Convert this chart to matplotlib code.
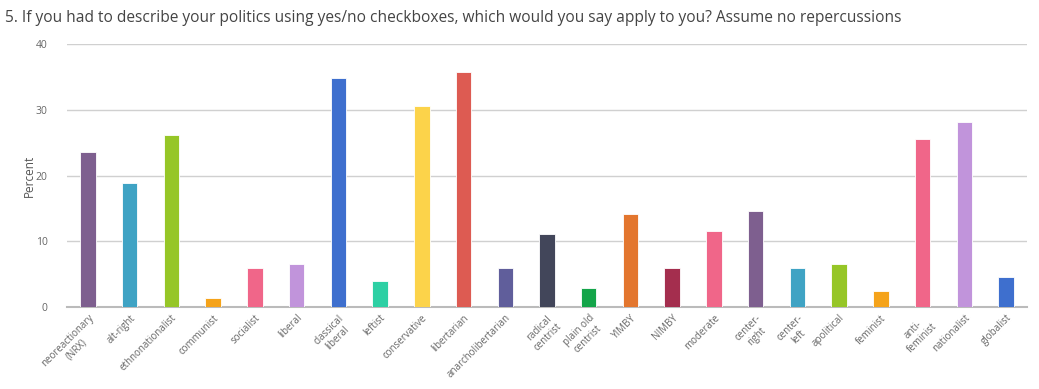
import numpy as np
import matplotlib.pyplot as plt

# =============================================================================
# Data
# =============================================================================
categories = [
    "neoreactionary\n(NRX)", "alt-right", "ethnonationalist", "communist",
    "socialist", "liberal", "classical\nliberal", "leftist", "conservative",
    "libertarian", "anarcholibertarian", "radical\ncentrist", "plain old\ncentrist",
    "YIMBY", "NIMBY", "moderate", "center-\nright", "center-\nleft", "apolitical",
    "feminist", "anti-\nfeminist", "nationalist", "globalist",
]
percent = [23.6, 18.9, 26.2, 1.4, 6.0, 6.5, 34.8, 4.0, 30.6, 35.8, 6.0, 11.1,
           2.9, 14.1, 6.0, 11.6, 14.6, 6.0, 6.5, 2.4, 25.6, 28.1, 4.5]
colors = ["#7e5f8f", "#3fa3c4", "#96c627", "#f5a31a", "#f06689", "#c194db",
          "#3e6fce", "#2dd0a4", "#fcd34a", "#dd5b52", "#605e9b", "#42465a",
          "#14a54a", "#e3762e", "#a42e4e", "#f06689", "#7e5f8f", "#3fa3c4",
          "#96c627", "#f5a31a", "#f06689", "#c194db", "#3e6fce"]
yticks = [0, 10, 20, 30, 40]
title = ("5. If you had to describe your politics using yes/no checkboxes, "
         "which would you say apply to you? Assume no repercussions")

# =============================================================================
# Plot
# =============================================================================
plt.rcParams["font.family"] = ["Open Sans", "DejaVu Sans"]

fig = plt.figure(figsize=(10.39, 3.89), dpi=100)
ax = fig.add_axes([67 / 1039, 1 - 307 / 389, 960 / 1039, 263 / 389])

x = np.arange(len(categories))
ax.bar(x, percent, width=0.37, color=colors, edgecolor="white", linewidth=0.6, zorder=3)

ax.set_xlim(-0.5, len(categories) - 0.5)
ax.set_ylim(0, 40)
ax.set_yticks(yticks)
ax.set_yticklabels([str(t) for t in yticks], fontsize=7.5, color="#666666")
ax.yaxis.grid(True, color="#d0d0d0", linewidth=1, zorder=0)
ax.tick_params(axis="y", length=0, pad=14)
ax.tick_params(axis="x", length=0, pad=4)

ax.set_xticks(x)
ax.set_xticklabels(categories, rotation=45, ha="right", rotation_mode="anchor",
                   fontsize=7, color="#666666", multialignment="center")

for s in ["top", "right", "left"]:
    ax.spines[s].set_visible(False)
ax.spines["bottom"].set_color("#bbbbbb")
ax.spines["bottom"].set_linewidth(1.5)

ax.set_ylabel("Percent", fontsize=8.5, color="#555555", labelpad=0)

fig.text(5 / 1039, 1 - 18 / 389, title, fontsize=11.2, color="#444444",
         va="center", ha="left")

fig.savefig("out.png", dpi=100)
